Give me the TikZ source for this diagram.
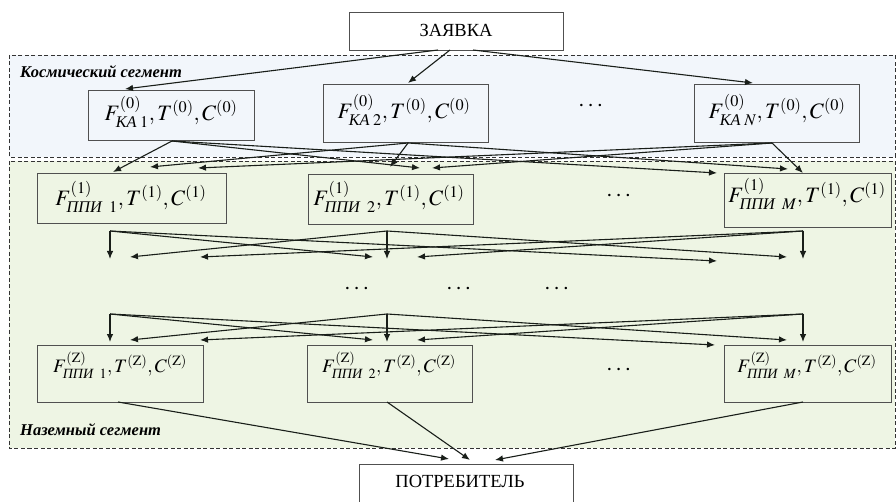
\documentclass[tikz,border=0pt]{standalone}
\usepackage{amsmath}
\usepackage{mathptmx}
\usepackage{fontspec}
\setmainfont{Liberation Serif}
\usetikzlibrary{arrows.meta}
\definecolor{spacebg}{RGB}{242,246,251}
\definecolor{groundbg}{RGB}{238,245,228}
\definecolor{boxline}{RGB}{80,80,80}
\definecolor{conn}{RGB}{25,30,25}
\tikzset{
  plainbox/.style={draw=boxline, line width=0.9pt, inner sep=0pt},
  segframe/.style={draw=black!80, dashed, dash pattern=on 4pt off 2.5pt, line width=0.8pt},
  seglabel/.style={anchor=west, inner sep=0pt, font=\fontsize{16.5}{19}\selectfont\bfseries\itshape},
  formula/.style={inner sep=0pt, font=\fontsize{22}{26}\selectfont},
  formulaz/.style={inner sep=0pt, font=\fontsize{19}{23}\selectfont},
  conarrow/.style={draw=conn, line width=1.1pt, -{Latex[length=8pt,width=6.5pt]}},
  bigtext/.style={inner sep=0pt, font=\fontsize{18.5}{22}\selectfont},
  dotsnode/.style={inner sep=0pt, font=\fontsize{24}{28}\selectfont}
}
\begin{document}
\begin{tikzpicture}[x=1pt,y=-1pt]
\clip (0,0) rectangle (896,502);
\fill[white] (0,0) rectangle (896,502);
% segments
\path[segframe, fill=spacebg] (9,55) rectangle (895,157);
\path[segframe, fill=groundbg] (9,161) rectangle (895,448);
\node[seglabel] (lspace) at (20,72) {Космический сегмент};
\node[seglabel] (lground) at (20,430) {Наземный сегмент};
% top / bottom boxes
\node[plainbox, fill=white, minimum width=214pt, minimum height=38pt] (zay) at (456,31) {};
\node[bigtext] (zayt) at (456,30) {ЗАЯВКА};
\node[plainbox, fill=white, minimum width=214pt, minimum height=48pt] (potr) at (466,488) {};
\node[bigtext] (potrt) at (460,481) {ПОТРЕБИТЕЛЬ};
% KA boxes
\node[plainbox, minimum width=166pt, minimum height=50pt] (ka1) at (171,115) {};
\node[plainbox, minimum width=165pt, minimum height=58pt] (ka2) at (405.5,113) {};
\node[plainbox, minimum width=165pt, minimum height=58pt] (kan) at (776.5,113) {};
\node[formula] (ka1t) at (171,112) {$F^{(0)}_{\text{\itshape КА}\;1},T^{(0)},C^{(0)}$};
\node[formula] (ka2t) at (404,110) {$F^{(0)}_{\text{\itshape КА}\;2},T^{(0)},C^{(0)}$};
\node[formula] (kant) at (777,110) {$F^{(0)}_{\text{\itshape КА}\;N},T^{(0)},C^{(0)}$};
\node[dotsnode] (d1) at (592,106) {$\cdots$};
% PPI(1) boxes
\node[plainbox, minimum width=189pt, minimum height=50pt] (pa) at (131.5,198) {};
\node[plainbox, minimum width=165pt, minimum height=50pt] (pb) at (390.5,199) {};
\node[plainbox, minimum width=167pt, minimum height=54pt] (pm) at (807.5,200) {};
\node[formula] (pat) at (131,197) {$F^{(1)}_{\text{\itshape ППИ}\;\;1},T^{(1)},C^{(1)}$};
\node[formula] (pbt) at (389,197) {$F^{(1)}_{\text{\itshape ППИ}\;\;2},T^{(1)},C^{(1)}$};
\node[formula] (pmt) at (807,194) {$F^{(1)}_{\text{\itshape ППИ}\;\;M},T^{(1)},C^{(1)}$};
\node[dotsnode] (d2) at (620,196) {$\cdots$};
% middle dots
\node[dotsnode] (d3) at (358,289) {$\cdots$};
\node[dotsnode] (d4) at (460,289) {$\cdots$};
\node[dotsnode] (d5) at (558,289) {$\cdots$};
% PPI(Z) boxes
\node[plainbox, minimum width=166pt, minimum height=57pt] (za) at (120,373.5) {};
\node[plainbox, minimum width=165pt, minimum height=57pt] (zb) at (389.5,373.5) {};
\node[plainbox, minimum width=167pt, minimum height=57pt] (zm) at (807.5,373.5) {};
\node[formulaz] (zat) at (120,365) {$F^{(\mathrm{Z})}_{\text{\itshape ППИ}\;\;1},T^{(\mathrm{Z})},C^{(\mathrm{Z})}$};
\node[formulaz] (zbt) at (389,365) {$F^{(\mathrm{Z})}_{\text{\itshape ППИ}\;\;2},T^{(\mathrm{Z})},C^{(\mathrm{Z})}$};
\node[formulaz] (zmt) at (807,365) {$F^{(\mathrm{Z})}_{\text{\itshape ППИ}\;\;M},T^{(\mathrm{Z})},C^{(\mathrm{Z})}$};
\node[dotsnode] (d6) at (620,370) {$\cdots$};
% coordinates: zayavka
\coordinate (zs1) at (438,50);
\coordinate (zs2) at (450,50);
\coordinate (zs3) at (473,50);
\coordinate (zt1) at (125,89);
\coordinate (zt2) at (408,83);
\coordinate (zt3) at (753,83);
\draw[conarrow] (zs1) -- (zt1);
\draw[conarrow] (zs2) -- (zt2);
\draw[conarrow] (zs3) -- (zt3);
% KA -> PPI(1)
\coordinate (s1) at (172,141);
\coordinate (s2) at (408,143);
\coordinate (s3) at (772,143);
\coordinate (t11) at (113,172);
\coordinate (t12) at (420,168);
\coordinate (t13) at (717,173);
\coordinate (t21) at (150,167);
\coordinate (t22) at (390,167);
\coordinate (t23) at (788,169);
\coordinate (t31) at (198,168);
\coordinate (t32) at (432,168);
\coordinate (t33) at (803,173);
\foreach \s in {1,2,3}{\foreach \t in {1,2,3}{\draw[conarrow] (s\s) -- (t\s\t);}}
% PPI(1) -> middle
\coordinate (m1) at (110,231);
\coordinate (m2) at (387,231);
\coordinate (m3) at (803,231);
\coordinate (u11) at (110,259);
\coordinate (u12) at (373,257);
\coordinate (u13) at (717,261);
\coordinate (u21) at (130,257);
\coordinate (u22) at (387,259);
\coordinate (u23) at (787,257);
\coordinate (u31) at (200,257);
\coordinate (u32) at (417,257);
\coordinate (u33) at (803,259);
\foreach \s in {1,2,3}{\foreach \t in {1,2,3}{\draw[conarrow] (m\s) -- (u\s\t);}}
% middle -> PPI(Z)
\coordinate (n1) at (110,314);
\coordinate (n2) at (387,314);
\coordinate (n3) at (803,314);
\coordinate (v11) at (110,342);
\coordinate (v12) at (373,340);
\coordinate (v13) at (715,345);
\coordinate (v21) at (130,340);
\coordinate (v22) at (387,342);
\coordinate (v23) at (787,340);
\coordinate (v31) at (200,340);
\coordinate (v32) at (417,340);
\coordinate (v33) at (803,342);
\foreach \s in {1,2,3}{\foreach \t in {1,2,3}{\draw[conarrow] (n\s) -- (v\s\t);}}
% PPI(Z) -> potrebitel
\coordinate (b1) at (118,402);
\coordinate (b2) at (387,402);
\coordinate (b3) at (803,402);
\coordinate (c1) at (449,459);
\coordinate (c2) at (470,460);
\coordinate (c3) at (495,460);
\draw[conarrow] (b1) -- (c1);
\draw[conarrow] (b2) -- (c2);
\draw[conarrow] (b3) -- (c3);
\end{tikzpicture}
\end{document}
